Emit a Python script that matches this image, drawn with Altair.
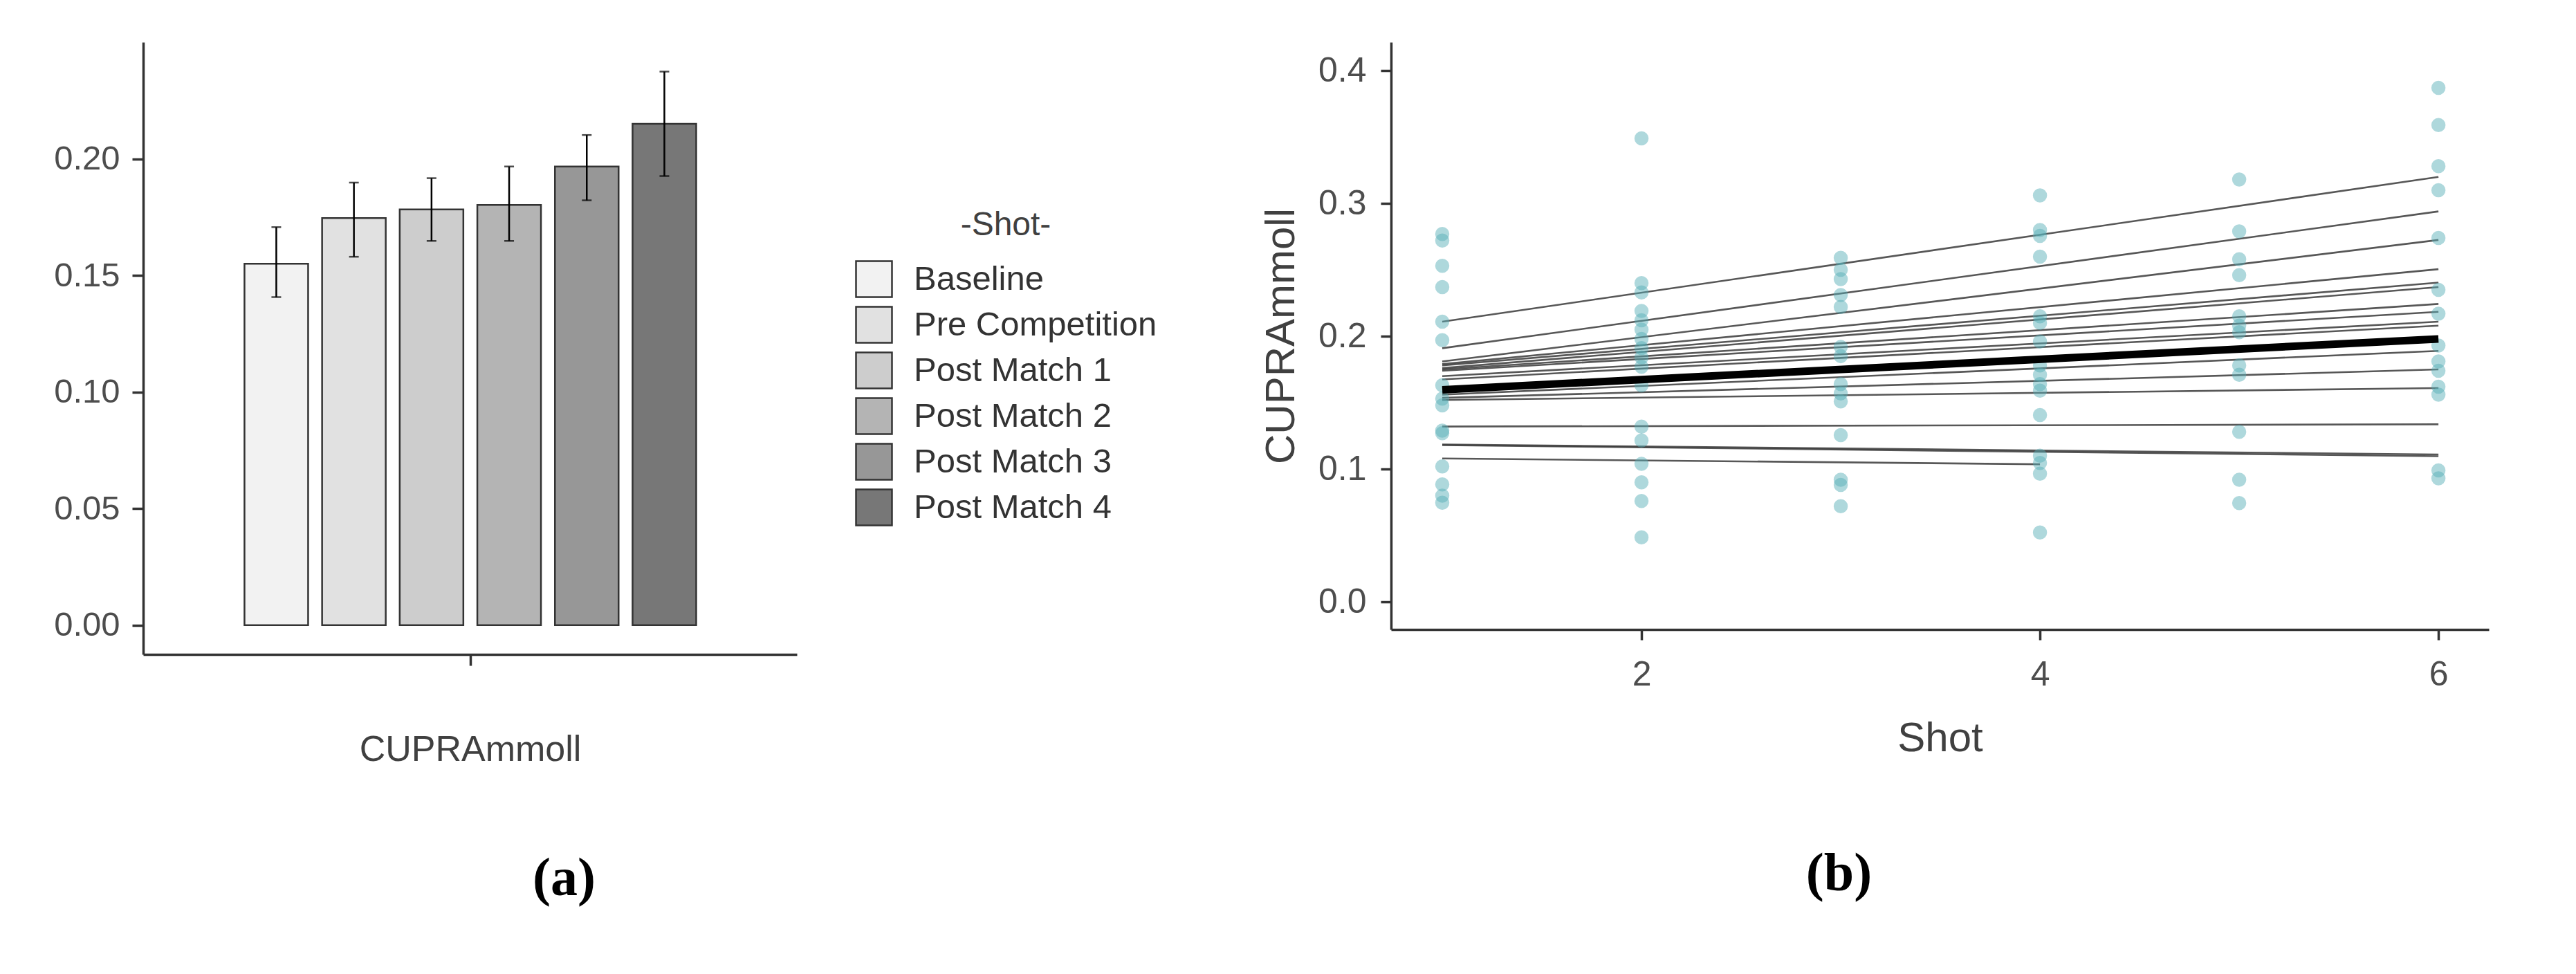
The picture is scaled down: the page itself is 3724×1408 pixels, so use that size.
import altair as alt
import pandas as pd

# ---------------- Panel (a) data ----------------
shots = ["Baseline", "Pre Competition", "Post Match 1", "Post Match 2", "Post Match 3", "Post Match 4"]
bar_pos = [1, 2, 3, 4, 5, 6]
bar_mean = [0.1550, 0.1746, 0.1783, 0.1802, 0.1967, 0.2150]
bar_lo = [0.1407, 0.1580, 0.1648, 0.1648, 0.1822, 0.1926]
bar_hi = [0.1707, 0.1898, 0.1917, 0.1967, 0.2102, 0.2374]
bar_grays = ["#f2f2f2", "#e1e1e1", "#cdcdcd", "#b4b4b4", "#979797", "#777777"]

# ---------------- Panel (b) data ----------------
pts_shot1 = [0.277, 0.272, 0.253, 0.237, 0.211, 0.197, 0.163, 0.153, 0.148, 0.129, 0.127, 0.102, 0.0885, 0.080, 0.0747]
pts_shot2 = [0.349, 0.240, 0.233, 0.219, 0.212, 0.205, 0.198, 0.191, 0.184, 0.177, 0.163, 0.132, 0.1215, 0.104, 0.090, 0.076, 0.0486]
pts_shot3 = [0.259, 0.250, 0.243, 0.231, 0.222, 0.192, 0.185, 0.164, 0.157, 0.151, 0.1255, 0.092, 0.088, 0.072]
pts_shot4 = [0.306, 0.280, 0.2755, 0.260, 0.215, 0.210, 0.196, 0.178, 0.171, 0.164, 0.159, 0.1406, 0.110, 0.1046, 0.0965, 0.0523]
pts_shot5 = [0.318, 0.279, 0.258, 0.246, 0.215, 0.208, 0.203, 0.178, 0.171, 0.128, 0.092, 0.0744]
pts_shot6 = [0.387, 0.359, 0.328, 0.310, 0.274, 0.235, 0.217, 0.193, 0.181, 0.174, 0.162, 0.156, 0.099, 0.093]

line_start = [0.211, 0.191, 0.181, 0.179, 0.178, 0.176, 0.175, 0.174, 0.170, 0.1675,
              0.156, 0.1536, 0.152, 0.132, 0.118, 0.1185, 0.108]
line_end = [0.320, 0.294, 0.2725, 0.2505, 0.2404, 0.237, 0.2243, 0.2184, 0.211, 0.208,
            0.189, 0.175, 0.161, 0.1337, 0.1097, 0.111, 0.1036]
line_last_shot = [6, 6, 6, 6, 6, 6, 6, 6, 6, 6, 6, 6, 6, 6, 6, 6, 4]
mean_start = 0.1597
mean_end = 0.1980

# ---------------- Build tables ----------------
df_a = pd.DataFrame({"shot": shots, "pos": bar_pos, "mean": bar_mean, "lo": bar_lo, "hi": bar_hi})

pt_rows = []
for s, vals in zip([1, 2, 3, 4, 5, 6], [pts_shot1, pts_shot2, pts_shot3, pts_shot4, pts_shot5, pts_shot6]):
    for v in vals:
        pt_rows.append({"shot": s, "value": v})
df_pts = pd.DataFrame(pt_rows)

ln_rows = []
for i, (a, b, last) in enumerate(zip(line_start, line_end, line_last_shot)):
    ln_rows.append({"id": i, "shot": 1, "value": a})
    ln_rows.append({"id": i, "shot": last, "value": b})
df_lines = pd.DataFrame(ln_rows)
df_mean = pd.DataFrame({"shot": [1, 6], "value": [mean_start, mean_end]})

FONT = "Liberation Sans"

# ---------------- Panel (a) ----------------
xa_scale = alt.Scale(domain=[-0.715, 7.707], nice=False, zero=False)
ya_scale = alt.Scale(domain=[-0.0125, 0.25], nice=False, zero=False)
xa_axis = alt.Axis(values=[3.5], labels=False, title="CUPRAmmoll", tickSize=16,
                   titlePadding=95, titleFontSize=52, grid=False)
ya_axis = alt.Axis(values=[0, 0.05, 0.10, 0.15, 0.20], format=".2f", title=None,
                   tickSize=16, labelPadding=18, labelFontSize=49, grid=False)

base_a = alt.Chart(df_a)
bars = base_a.mark_bar(stroke="#333333", strokeWidth=2.5).transform_calculate(
    xl="datum.pos - 0.41", xr="datum.pos + 0.41", zero="0"
).encode(
    x=alt.X("xl:Q", scale=xa_scale, axis=xa_axis),
    x2="xr:Q",
    y=alt.Y("mean:Q", scale=ya_scale, axis=ya_axis),
    y2="zero:Q",
    fill=alt.Fill("shot:N", scale=alt.Scale(domain=shots, range=bar_grays), sort=shots,
                  legend=alt.Legend(title="-Shot-", orient="none", legendX=1029, legendY=241,
                                    titleAnchor="middle", titleFontSize=48, titleFont=FONT,
                                    titleFontWeight="normal", titleColor="#404040",
                                    labelFontSize=49, labelFont=FONT, labelColor="#333333",
                                    labelLimit=1000,
                                    symbolType="square", symbolSize=2704,
                                    symbolStrokeColor="#333333", symbolStrokeWidth=2.5,
                                    rowPadding=3, labelOffset=30, titlePadding=26, padding=0,
                                    symbolOpacity=1)),
)
err = base_a.mark_rule(color="black", strokeWidth=2.5).encode(
    x=alt.X("pos:Q", scale=xa_scale, axis=xa_axis),
    y=alt.Y("lo:Q", scale=ya_scale, axis=ya_axis),
    y2="hi:Q",
)
cap_lo = base_a.mark_tick(color="black", orient="horizontal", size=14, thickness=2.5).encode(
    x=alt.X("pos:Q", scale=xa_scale, axis=xa_axis),
    y=alt.Y("lo:Q", scale=ya_scale, axis=ya_axis),
)
cap_hi = base_a.mark_tick(color="black", orient="horizontal", size=14, thickness=2.5).encode(
    x=alt.X("pos:Q", scale=xa_scale, axis=xa_axis),
    y=alt.Y("hi:Q", scale=ya_scale, axis=ya_axis),
)
panel_a = alt.layer(bars, err, cap_lo, cap_hi).properties(
    width=945, height=885,
    title=alt.TitleParams("(a)", orient="bottom", anchor="middle", frame="group", dx=136,
                          offset=122, font="Liberation Serif", fontSize=78,
                          fontWeight="bold", color="black"),
)

# ---------------- Panel (b) ----------------
xb_scale = alt.Scale(domain=[0.743, 6.253], nice=False, zero=False)
yb_scale = alt.Scale(domain=[-0.0208, 0.4214], nice=False, zero=False)
xb_axis = alt.Axis(values=[2, 4, 6], title="Shot", tickSize=15, labelPadding=25,
                   labelFontSize=50, titleFontSize=60, titlePadding=38, grid=False,
                   labelFlush=False)
yb_axis = alt.Axis(values=[0, 0.1, 0.2, 0.3, 0.4], format=".1f", title="CUPRAmmoll",
                   tickSize=15, labelPadding=21, labelFontSize=50, titleFontSize=60,
                   titlePadding=22, grid=False)

lines = alt.Chart(df_lines).mark_line(color="#3a3a3a", strokeWidth=2.6, opacity=0.85).encode(
    x=alt.X("shot:Q", scale=xb_scale, axis=xb_axis),
    y=alt.Y("value:Q", scale=yb_scale, axis=yb_axis),
    detail="id:N",
)
points = alt.Chart(df_pts).mark_circle(size=420, color="#55aeb5", opacity=0.48).encode(
    x=alt.X("shot:Q", scale=xb_scale, axis=xb_axis),
    y=alt.Y("value:Q", scale=yb_scale, axis=yb_axis),
)
mean_line = alt.Chart(df_mean).mark_line(color="black", strokeWidth=11).encode(
    x=alt.X("shot:Q", scale=xb_scale, axis=xb_axis),
    y=alt.Y("value:Q", scale=yb_scale, axis=yb_axis),
)
panel_b = alt.layer(lines, points, mean_line).properties(
    width=1587, height=849,
    title=alt.TitleParams("(b)", orient="bottom", anchor="middle", frame="group", dx=-146,
                          offset=128, font="Liberation Serif", fontSize=78,
                          fontWeight="bold", color="black"),
)

chart = alt.hconcat(panel_a, panel_b, spacing=670).properties(
    padding={"left": 69, "top": 53, "right": 20, "bottom": 20},
    background="white",
).configure_view(strokeWidth=0).configure_axis(
    domainColor="#333333", domainWidth=3.5, tickColor="#333333", tickWidth=3.5,
    labelColor="#4d4d4d", titleColor="#404040", labelFont=FONT, titleFont=FONT,
    titleFontWeight="normal",
)

chart.save("out.html", embed_options={"renderer": "svg", "actions": False})
